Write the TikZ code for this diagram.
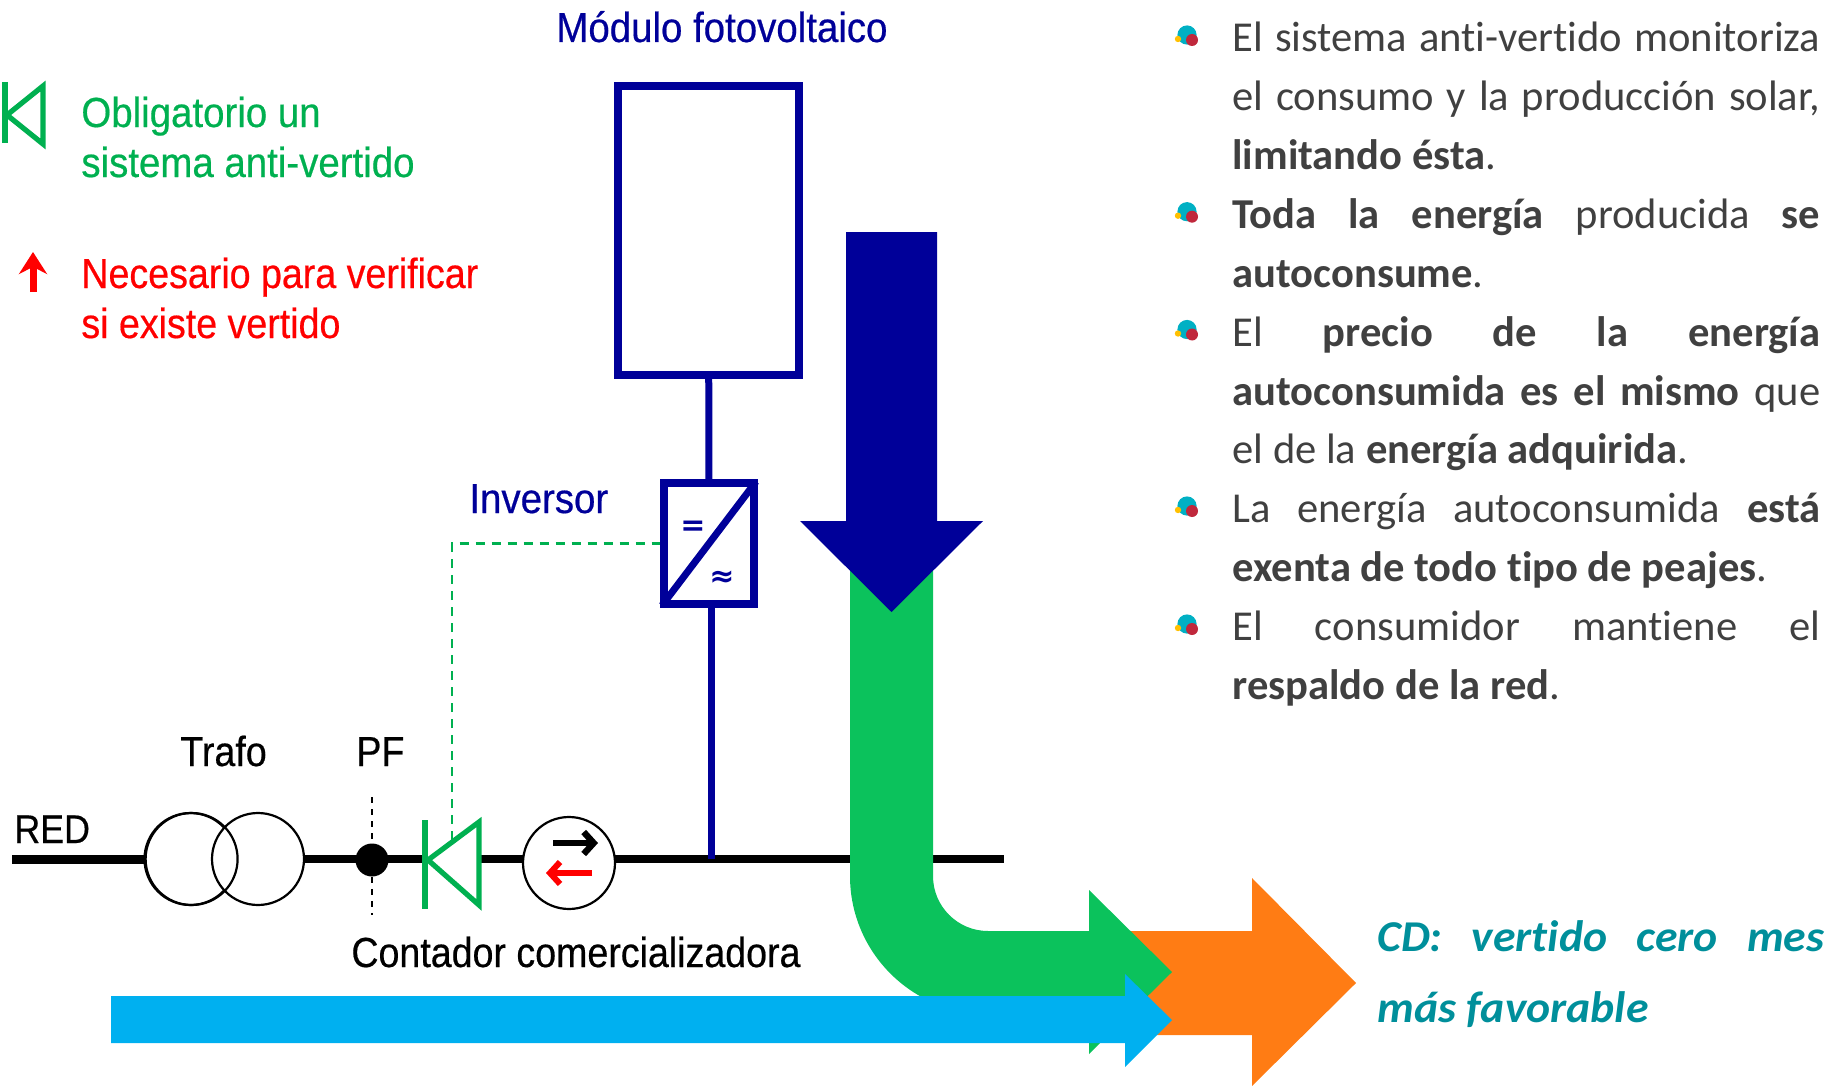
\documentclass[tikz,border=0pt]{standalone}
\usepackage{fontspec}
\usepackage{tikz}
\usetikzlibrary{arrows.meta}
\setmainfont{Carlito}[Ligatures=NoCommon]
\newfontfamily\narrowfont[FakeStretch=0.895,FakeBold=0.45]{Liberation Sans}
\newfontfamily\widerfont[FakeStretch=0.915,FakeBold=0.45]{Liberation Sans}
\newfontfamily\symbfont{DejaVu Sans}
\newfontfamily\cdfont[FakeStretch=1.04,Ligatures=NoCommon]{Carlito}
\definecolor{navyline}{HTML}{000099}
\definecolor{antigreen}{HTML}{00B050}
\definecolor{flowgreen}{HTML}{0BC25C}
\definecolor{floworange}{HTML}{FF7C14}
\definecolor{flowblue}{HTML}{00B0F0}
\definecolor{bodygrey}{HTML}{404040}
\definecolor{cdteal}{HTML}{008F9B}
\definecolor{dotteal}{HTML}{00B0C4}
\definecolor{dotyellow}{HTML}{FFC000}
\definecolor{dotred}{HTML}{C0283C}
\tikzset{
  wire/.style={line width=3.7pt},
  label/.style={font=\narrowfont\fontsize{21}{25}\selectfont, inner sep=0pt, anchor=base west},
  navylabel/.style={label, text=navyline, font=\widerfont\fontsize{21}{25}\selectfont},
  greenlabel/.style={label, text=antigreen, font=\widerfont\fontsize{21}{25}\selectfont},
  trafo/.style={circle, draw=black, line width=1.1pt, minimum size=46pt, inner sep=0pt},
  symb/.style={draw=antigreen, line width=2.6pt}
}
\begin{document}
\begin{tikzpicture}[x=0.5pt,y=-0.5pt]
   \useasboundingbox (0,0) rectangle (1842,1086);

   % legend
   \draw[symb, line width=3pt] (5,82) -- (5,143);
   \draw[symb] (7,115) -- (43,86) -- (43,144) -- cycle;
   \draw[red, line width=3.5pt, -{Stealth[length=11pt,width=14pt]}] (33,292) -- (33,252);
   \node[greenlabel] (oblig) at (81,127) {Obligatorio un};
   \node[greenlabel] (sist) at (81,177) {sistema anti-vertido};
   \node[label, text=red] (neces) at (81,288) {Necesario para verificar};
   \node[label, text=red] (siex) at (81,338) {si existe vertido};

   % module and inverter
   \node[navylabel] (modlabel) at (556,42) {Módulo fotovoltaico};
   \node[draw=navyline, line width=4pt, minimum width=90.5pt, minimum height=144.5pt, inner sep=0pt] (module) at (708.5,230.5) {};
   \node[draw=navyline, line width=3.8pt, minimum width=45pt, minimum height=60.5pt, inner sep=0pt] (inv) at (709,543.5) {};
   \draw[navyline, line width=3.5pt, shorten <=1.5pt, shorten >=1.5pt] (inv.south west) -- (inv.north east);
   \node[text=navyline, inner sep=0pt, font=\symbfont\bfseries\fontsize{15}{15}\selectfont] (eq) at (693,528) {=};
   \node[text=navyline, inner sep=0pt, font=\symbfont\bfseries\fontsize{15}{15}\selectfont] (ap) at (722,579) {≈};
   \node[navylabel] (invlabel) at (469,513) {Inversor};
   \draw[navyline, line width=3.5pt] (module) -- (inv);

   % line
   \coordinate (start) at (12,859);
   \coordinate (end) at (1004,859);
   \coordinate (tap) at (711,859);
   \draw[wire] (start) -- (end);
   \draw[line width=4.5pt] (start) -- (145,859);
   \draw[navyline, line width=3.5pt] (inv.south -| tap) -- (tap);
   \node[label, font=\narrowfont\fontsize{20}{25}\selectfont] (red) at (14,843) {RED};
   \node[trafo, fill=white] (trafoa) at (190.5,859) {};
   \node[trafo, fill=white] (trafob) at (258,859) {};
   \draw[line width=1.1pt] (trafoa.east) arc (0:360:23pt);
   \node[label] (trafolabel) at (180,766) {Trafo};
   \node[label] (pflabel) at (356,766) {PF};
   \node[circle, fill=black, minimum size=16.5pt, inner sep=0pt] (pf) at (372,860) {};
   \coordinate (pftop) at (372,797);
   \coordinate (pfbot) at (372,915);
   \draw[dashed, line width=0.7pt] (pftop) -- (pf) -- (pfbot);
   \fill[white] (425,822) rectangle (479,905);
   \draw[symb, line width=3pt] (425,820) -- (425,909);
   \draw[symb] (428,860) -- (479,822) -- (479,905) -- cycle;
   \coordinate (anti) at (452,840);
   \draw[antigreen, line width=1.3pt, dash pattern=on 4.5pt off 3.5pt] (anti) |- (inv.west);
   \node[trafo, fill=white] (meter) at (569,863) {};
   \draw[line width=3.2pt, -{Straight Barb[length=5pt,width=11pt]}] (553,843) -- (598,843);
   \draw[red, line width=3pt, -{Straight Barb[length=5pt,width=11pt]}] (592,873) -- (546,873);
   \node[label] (contador) at (351,967) {Contador comercializadora};

   % arrows
   \fill[floworange] (1120,931) -- (1252,931) -- (1252,878) -- (1356,983) -- (1252,1086) -- (1252,1035) -- (1120,1035) -- cycle;
   \fill[flowgreen] (850,560) -- (933,560) -- (933,876) arc (180:90:55) -- (1089,931) -- (1089,890) -- (1172,972) -- (1089,1054) -- (1089,1014) -- (988,1014) arc (90:180:138) -- cycle;
   \fill[flowblue] (111,996) -- (1125,996) -- (1125,974) -- (1172,1020) -- (1125,1067) -- (1125,1043) -- (111,1043) -- cycle;
   \fill[navyline] (846,232) -- (937,232) -- (937,521) -- (983,521) -- (891.5,612) -- (800,521) -- (846,521) -- cycle;

   % text
   \node[anchor=north west, inner sep=0pt, text width=294pt, align=justify, text=bodygrey,
         font=\fontsize{21.3}{29.42}\selectfont] (body) at (1232,22) {%
     El sistema anti-vertido monitoriza\linebreak
     el consumo y la producción solar,\linebreak
     \textbf{limitando ésta}.\par
     \textbf{Toda la energía} producida \textbf{se}\linebreak
     \textbf{autoconsume}.\par
     El \textbf{precio de la energía}\linebreak
     \textbf{autoconsumida es el mismo} que\linebreak
     el de la \textbf{energía adquirida}.\par
     La energía autoconsumida \textbf{está}\linebreak
     \textbf{exenta de todo tipo de peajes}.\par
     El consumidor mantiene el\linebreak
     \textbf{respaldo de la red}.};
   \foreach \y in {50,226.7,344.5,521,639} {
     \fill[dotteal] (1187,\y-15) circle (4.8pt);
     \fill[dotyellow] (1178,\y-11) circle (1.6pt);
     \fill[dotred] (1192,\y-10) circle (3pt);
   }
   \node[anchor=base west, inner sep=0pt, text width=223.5pt, align=justify, text=cdteal,
         font=\cdfont\bfseries\itshape\fontsize{22}{35.5}\selectfont] (cd) at (1377,951) {%
     CD: vertido cero mes\linebreak
     más favorable};

   %\draw (0,0) -- (1842,1086);
\end{tikzpicture}
\end{document}
